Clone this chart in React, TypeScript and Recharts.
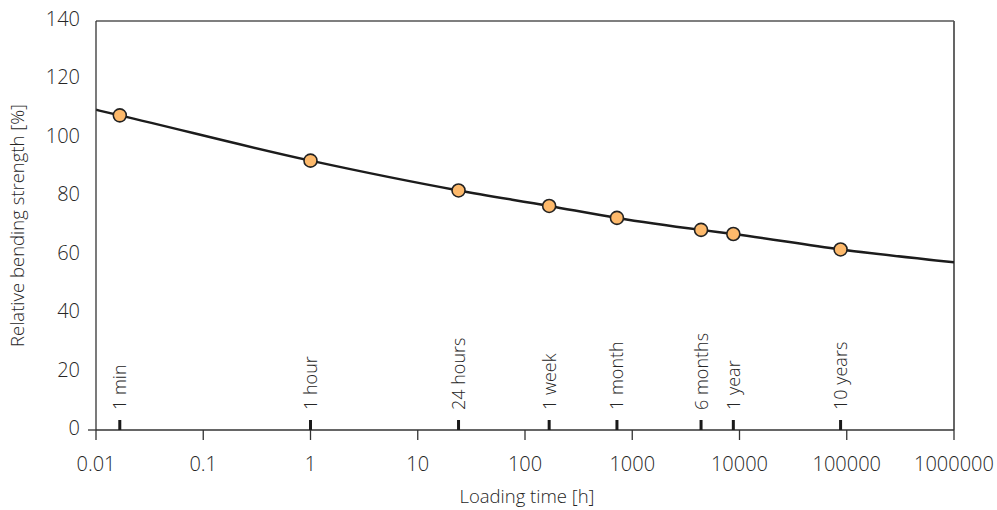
import { ComposedChart, Line, Scatter, XAxis, YAxis, ReferenceLine } from 'recharts'

// loading durations (hours) with their names
const eventNames = ['1 min', '1 hour', '24 hours', '1 week', '1 month', '6 months', '1 year', '10 years']
const eventHours = [1 / 60, 1, 24, 168, 720, 4380, 8760, 87600]
const strength = [107.7, 92.2, 82.0, 76.7, 72.6, 68.5, 67.1, 61.8]

// ends of the fitted curve at the plot edges
const curveHours = [0.01, ...eventHours, 1000000]
const curveStrength = [109.6, ...strength, 57.4]

const xTicks = [0.01, 0.1, 1, 10, 100, 1000, 10000, 100000, 1000000]
const yTicks = [0, 20, 40, 60, 80, 100, 120, 140]

const FONT = '"Open Sans", "Noto Sans", sans-serif'
const WEIGHT = 350
const TEXT = '#262626'

const curveData = curveHours.map((h, i) => ({ h, v: curveStrength[i] }))
const pointData = eventHours.map((h, i) => ({ h, v: strength[i] }))
const eventData = eventHours.map((h, i) => ({ h, v: 0, name: eventNames[i] }))

const Marker = (props: any) => {
  const { cx, cy } = props
  return <circle cx={cx} cy={cy} r={6.5} fill="#FDB96B" stroke="#222" strokeWidth={1.6} />
}

const EventMark = (props: any) => {
  const { cx, cy, payload } = props
  return (
    <g>
      <rect x={cx - 1.5} y={cy - 10} width={3} height={10} fill="#1a1a1a" />
      <text
        x={cx}
        y={cy - 20}
        transform={`rotate(-90 ${cx} ${cy - 20})`}
        dy="0.36em"
        textAnchor="start"
        fontFamily={FONT}
        fontWeight={WEIGHT}
        fontSize={18}
        fill={TEXT}
      >
        {payload.name}
      </text>
    </g>
  )
}

const XTick = (props: any) => {
  const { x, y, payload } = props
  return (
    <text x={x} y={y + 31} textAnchor="middle" fontFamily={FONT} fontWeight={WEIGHT} fontSize={20} fill={TEXT}>
      {String(payload.value)}
    </text>
  )
}

const YTick = (props: any) => {
  const { x, y, payload } = props
  return (
    <g>
      {payload.value === 0 && <line x1={x - 8} x2={x} y1={y} y2={y} stroke="#333" strokeWidth={1.3} />}
      <text x={x - 16} y={y + 5} textAnchor="end" fontFamily={FONT} fontWeight={WEIGHT} fontSize={20} fill={TEXT}>
        {payload.value}
      </text>
    </g>
  )
}

const YTitle = (props: any) => {
  const { viewBox } = props
  const x = 24
  const y = viewBox.y + viewBox.height / 2
  return (
    <text x={x} y={y} transform={`rotate(-90 ${x} ${y})`} textAnchor="middle" fontFamily={FONT} fontWeight={WEIGHT} fontSize={18.5} fill={TEXT}>
      Relative bending strength [%]
    </text>
  )
}

const XTitle = (props: any) => {
  const { viewBox } = props
  return (
    <text x={viewBox.x + viewBox.width / 2 + 2} y={503} textAnchor="middle" fontFamily={FONT} fontWeight={WEIGHT} fontSize={18.5} fill={TEXT}>
      Loading time [h]
    </text>
  )
}

export default function App() {
  return (
    <div style={{ position: 'absolute', left: 0, top: 0, width: 997, height: 510, background: '#fff' }}>
      <ComposedChart width={997} height={510} margin={{ top: 21, right: 43, left: 0, bottom: 0 }}>
        <XAxis
          dataKey="h"
          type="number"
          scale="log"
          domain={[0.01, 1000000]}
          ticks={xTicks}
          allowDataOverflow
          height={80}
          stroke="#333"
          strokeWidth={1.3}
          tickSize={10}
          tickMargin={0}
          tick={<XTick />}
          label={{ content: <XTitle /> }}
        />
        <YAxis
          dataKey="v"
          type="number"
          domain={[0, 140]}
          ticks={yTicks}
          width={96}
          stroke="#333"
          strokeWidth={1.3}
          tickLine={false}
          tickSize={0}
          tickMargin={0}
          tick={<YTick />}
          label={{ content: <YTitle /> }}
        />
        <ReferenceLine y={140} stroke="#555" strokeWidth={1.5} />
        <ReferenceLine x={1000000} stroke="#555" strokeWidth={1.8} />
        <Line
          data={curveData}
          dataKey="v"
          type="monotone"
          stroke="#1c1c1c"
          strokeWidth={2.5}
          dot={false}
          activeDot={false}
          isAnimationActive={false}
        />
        <Scatter data={eventData} dataKey="v" shape={<EventMark />} isAnimationActive={false} />
        <Scatter data={pointData} dataKey="v" shape={<Marker />} isAnimationActive={false} />
      </ComposedChart>
    </div>
  )
}
